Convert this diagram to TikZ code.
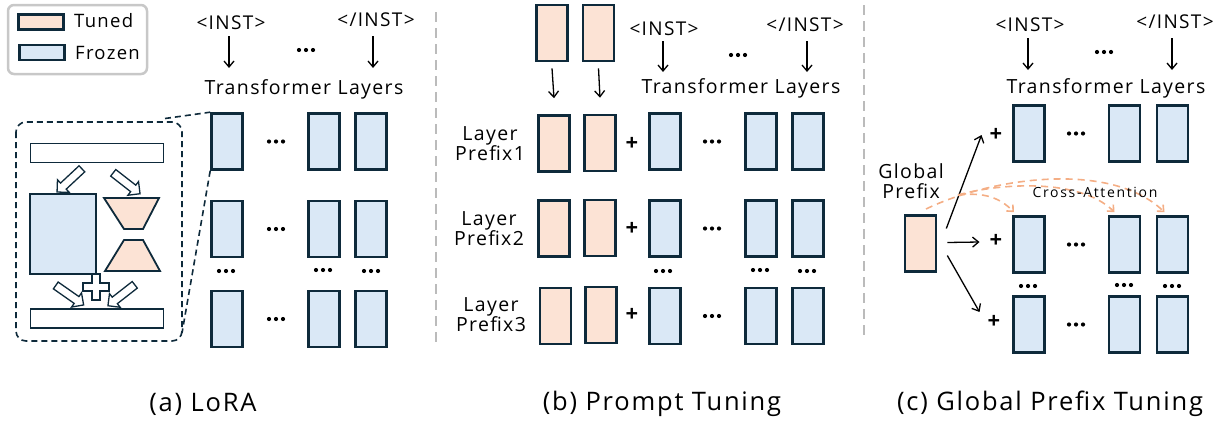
\documentclass[tikz,border=0pt]{standalone}
\usepackage{fontspec}
\setmainfont{Open Sans}[LetterSpace=7]
\usetikzlibrary{arrows.meta,shapes.arrows}
\definecolor{edge}{HTML}{0E2A3B}
\definecolor{frz}{HTML}{DAE8F6}
\definecolor{tun}{HTML}{FCE3D5}
\definecolor{orng}{HTML}{F4AE85}
\definecolor{divgray}{HTML}{BBBBBB}
\definecolor{leggray}{HTML}{C8C8C8}
\begin{document}
\begin{tikzpicture}[x=1pt,y=-1pt,
 blk/.style={draw=edge,line width=2.6pt,minimum width=31pt,minimum height=56pt,inner sep=0pt},
 frozen/.style={blk,fill=frz},
 tuned/.style={blk,fill=tun},
 swatch/.style={draw=edge,line width=2.6pt,minimum width=45pt,minimum height=15pt,inner sep=0pt},
 lbl/.style={font=\fontsize{19.5}{21}\selectfont, inner sep=0pt},
 legtxt/.style={font=\fontsize{18.5}{20}\selectfont, inner sep=0pt},
 tag/.style={font=\fontsize{19}{21}\selectfont, inner sep=0pt},
 captxt/.style={font=\fontsize{25.5}{28}\selectfont, inner sep=0pt},
 arr/.style={-{Straight Barb[length=6pt,width=10pt]}, line width=1.3pt},
 plusn/.style={font=\fontsize{22}{24}\selectfont\bfseries, inner sep=0pt},
 attn/.style={orng, line width=1.6pt, dash pattern=on 7pt off 5pt, -{Straight Barb[length=5pt,width=9pt]}},
 hollow/.style={single arrow, draw=edge, line width=1.3pt, fill=white, minimum height=34pt, minimum width=16pt, inner xsep=0pt, inner ysep=3.5pt, single arrow head extend=4.5pt},
 thin/.style={draw=edge,line width=1.8pt},
 divider/.style={divgray,line width=2.5pt,dash pattern=on 10pt off 6pt},
 tdots/.pic={\fill (-7,0) circle (2.1) (0,0) circle (2.1) (7,0) circle (2.1);}
]
\useasboundingbox (0,0) rectangle (1222,423);

% ---------- legend ----------
\draw[leggray,line width=2.5pt,rounded corners=6pt,fill=white] (8,5) rectangle (147,74);
\node[swatch,fill=tun] (sw1) at (41,22) {};
\node[swatch,fill=frz] (sw2) at (42,52.5) {};
\node[legtxt,anchor=west] (lt) at (74,21) {Tuned};
\node[legtxt,anchor=west] (lf) at (75,53) {Frozen};

% ---------- dividers ----------
\draw[divider] (436,12) -- (436,343);
\draw[divider] (864,5) -- (864,337);

% ---------- panel a ----------
\node[tag] (ai1) at (231,23) {<INST>};
\node[tag] (ai2) at (376,20) {</INST>};
\coordinate (aa1) at (229,68);
\coordinate (aa2) at (373,68);
\draw[arr] (229,36) -- (aa1);
\draw[arr] (373,36) -- (aa2);
\pic at (306,50) {tdots};
\node[lbl] (atl) at (304,89) {Transformer Layers};

\foreach \r/\y in {1/141.5,2/229,3/319}{
  \node[frozen] (a\r1) at (227,\y) {};
  \node[frozen] (a\r2) at (324,\y) {};
  \node[frozen] (a\r3) at (371,\y) {};
  \pic at (276,\y) {tdots};
}
\pic at (226,271) {tdots};
\pic at (323,270) {tdots};
\pic at (371,271) {tdots};

% zoom box
\draw[edge,line width=1.6pt,dash pattern=on 6pt off 4pt,rounded corners=10pt] (16,122) rectangle (182,341);
\coordinate (zt) at (165,118.5);
\coordinate (zb) at (182,333);
\draw[edge,line width=1.6pt,dash pattern=on 6pt off 4pt] (zt) -- (a11.north west);
\draw[edge,line width=1.6pt,dash pattern=on 6pt off 4pt] (a11.south west) -- (zb);

\node[thin,fill=white,minimum width=133pt,minimum height=19pt,inner sep=0pt] (bar1) at (97,153) {};
\node[thin,fill=white,minimum width=133pt,minimum height=19pt,inner sep=0pt] (bar2) at (97,318.5) {};
\node[thin,fill=frz,minimum width=66pt,minimum height=80pt,inner sep=0pt] (wmat) at (63,234) {};
\draw[thin,fill=tun] (104,198) -- (159,198) -- (143,229) -- (124,229) -- cycle;
\draw[thin,fill=tun] (124,240) -- (143,240) -- (160,271) -- (105,271) -- cycle;
\node[hollow,rotate=223] (h1) at (71,179) {};
\node[hollow,rotate=-38] (h2) at (125,182) {};
\node[hollow,rotate=-35] (h3) at (68,294) {};
\node[hollow,rotate=218] (h4) at (123,294) {};
\draw[edge,line width=1.3pt,fill=white]
  (92,274) -- (100,274) -- (100,283) -- (109,283) -- (109,291) -- (100,291) -- (100,300)
  -- (92,300) -- (92,291) -- (83,291) -- (83,283) -- (92,283) -- cycle;

\node[captxt] (capa) at (203,404) {(a) LoRA};

% ---------- panel b ----------
\node[tuned] (bt1) at (552,33) {};
\node[tuned] (bt2) at (598.5,33) {};
\node[tuned] (b11) at (554,143.5) {};
\node[tuned] (b12) at (600,143) {};
\draw[arr] (bt1.south) ++(0,6) -- ([shift={(0,-16)}]b11.north);
\draw[arr] (bt2.south) ++(0,6) -- ([shift={(0,-16)}]b12.north);
\node[tag] (bi1) at (664,29) {<INST>};
\node[tag] (bi2) at (805,25) {</INST>};
\draw[arr] (663,41) -- (663,72);
\draw[arr] (807,41) -- (807,72);
\pic at (738,55) {tdots};
\node[lbl] (btl) at (741,88) {Transformer Layers};

\foreach \r/\y/\ty/\lx in {1/141.5/143.5/490,2/228.5/228.5/489,3/316/315/491}{
  \node[frozen] (b\r3) at (665,\y) {};
  \node[frozen] (b\r4) at (761,\y) {};
  \node[frozen] (b\r5) at (808,\y) {};
  \pic at (712,\y) {tdots};
  \node[plusn] (bp\r) at (632,\ty) {+};
  \node[lbl,align=center] (bl\r) at (\lx,\ty) {Layer\\[-1pt]Prefix\r};
}
\node[tuned] (b21) at (554,228.5) {};
\node[tuned] (b22) at (600,228) {};
\node[tuned] (b31) at (555.5,316) {};
\node[tuned] (b32) at (601,315) {};
\pic at (663,271) {tdots};
\pic at (760,270) {tdots};
\pic at (807,271) {tdots};

\node[captxt] (capb) at (662,404) {(b) Prompt Tuning};

% ---------- panel c ----------
\node[tag] (ci1) at (1030,25) {<INST>};
\node[tag] (ci2) at (1175,22) {</INST>};
\draw[arr] (1028,38) -- (1028,70);
\draw[arr] (1172,38) -- (1172,70);
\pic at (1104,52) {tdots};
\node[lbl] (ctl) at (1106,88) {Transformer Layers};

\foreach \r/\y in {1/133.5,2/244.5,3/324.5}{
  \node[frozen] (c\r1) at (1029,\y) {};
  \node[frozen] (c\r2) at (1124.5,\y) {};
  \node[frozen] (c\r3) at (1172.5,\y) {};
  \pic at (1076,\y) {tdots};
}
\node[plusn] (cp1) at (996,135) {+};
\node[plusn] (cp2) at (996,241) {+};
\node[plusn] (cp3) at (994,322) {+};
\pic at (1028,286) {tdots};
\pic at (1124,285) {tdots};
\pic at (1172,286) {tdots};

\node[tuned] (gp) at (920.5,243.5) {};
\node[lbl,align=center] (gpl) at (911,181) {Global\\[-1pt]Prefix};
\draw[arr] ([shift={(9,-15)}]gp.east) -- ([shift={(-8,0)}]cp1.west);
\draw[arr] ([shift={(10,-1)}]gp.east) -- ([shift={(-10,1)}]cp2.west);
\draw[arr] ([shift={(10,12)}]gp.east) -- ([shift={(-8,-10)}]cp3.west);

\coordinate (o0) at (926,209);
\coordinate (o1) at (958,195);
\draw[attn] (o0) .. controls (990,178) and (1110,160) .. ([shift={(-8,-3)}]c23.north);
\draw[attn] (o1) .. controls (1000,183) and (1080,178) .. ([shift={(-10,-3)}]c22.north);
\draw[attn] (o1) .. controls (985,192) and (1000,198) .. ([shift={(-15,-3)}]c21.north);
\node[font=\fontsize{14}{16}\selectfont\addfontfeature{LetterSpace=12},inner sep=0pt] (xa) at (1095,192) {Cross-Attention};

\node[captxt] (capc) at (1050,404) {(c) Global Prefix Tuning};
\end{tikzpicture}
\end{document}
